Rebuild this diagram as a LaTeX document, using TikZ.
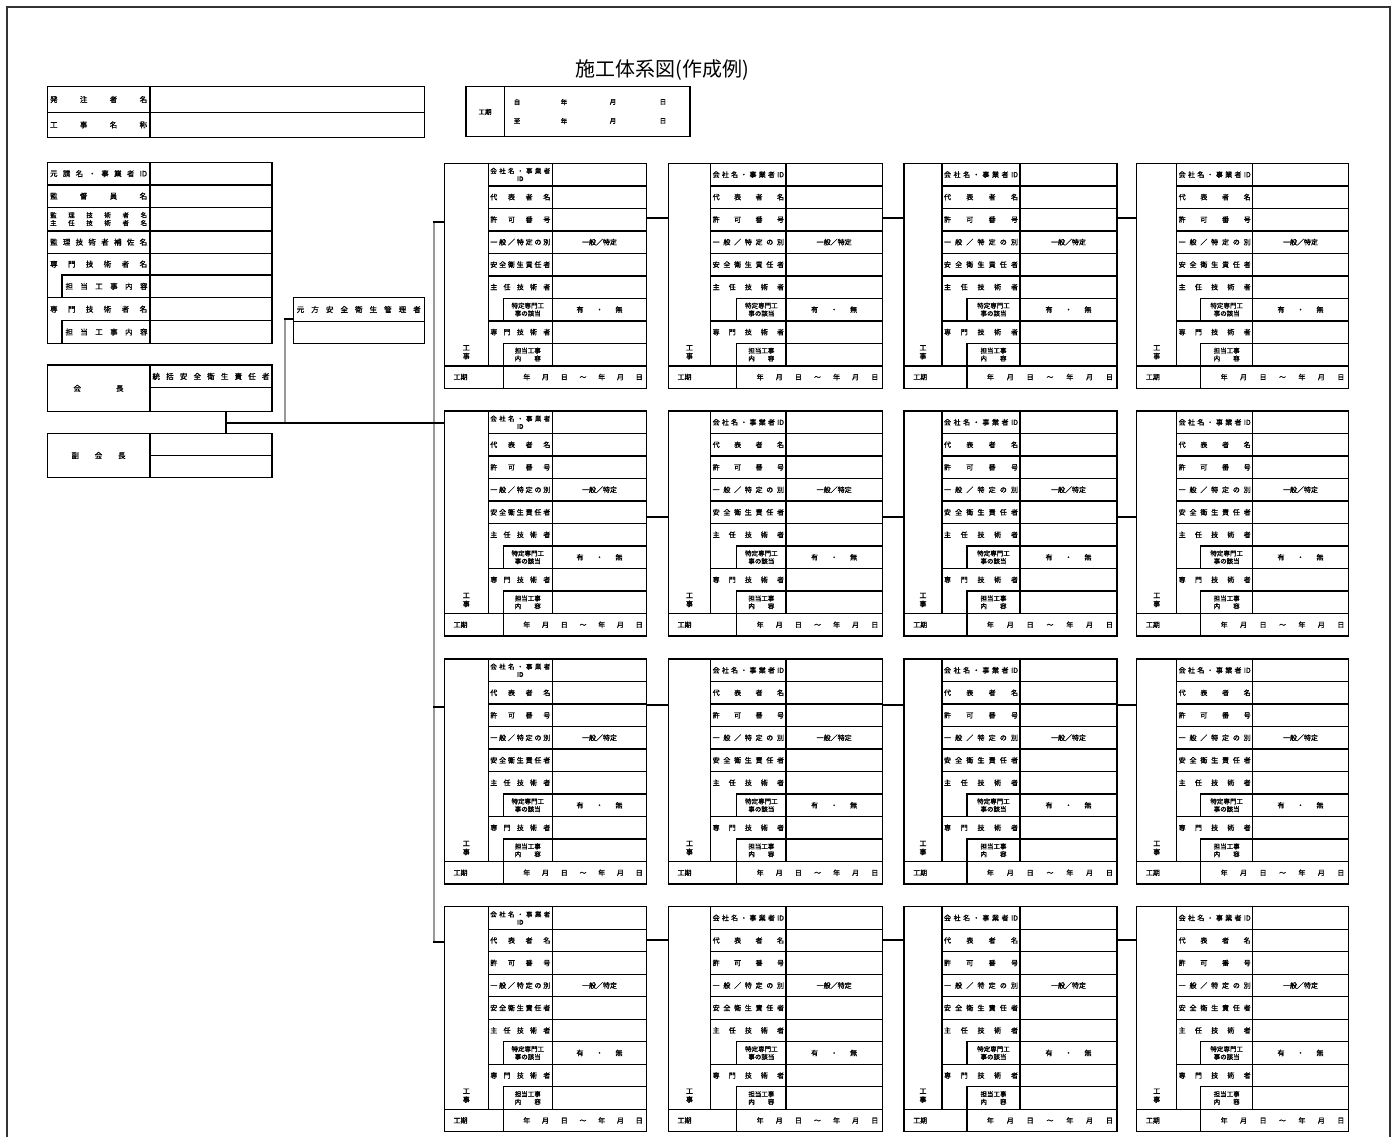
\documentclass[tikz,border=0pt]{standalone}
\usepackage{fontspec}
\newfontfamily\jp[FakeBold=1.2]{Noto Sans CJK JP}
\newfontfamily\jpt{Noto Sans CJK JP}
\tikzset{
 tl/.style={line width=1.4pt, black, line cap=rect},
 gl/.style={line width=2pt, black!40},
 lab/.style={inner sep=0pt, font=\jp\fontsize{7}{8.5}\selectfont, align=center},
 labs/.style={inner sep=0pt, font=\jp\fontsize{6.5}{7.8}\selectfont, align=center},
 llab/.style={inner sep=0pt, font=\jp\fontsize{7.5}{9}\selectfont, align=center},
}
\newcommand{\dst}[2]{\makebox[#1pt][s]{#2}}
\newcommand{\kbox}[8]{%
\begin{scope}[shift={(0,#7)}]
\coordinate (#1-nw) at (#2,0);
\coordinate (#1-ne) at (#6,0);
\draw[tl] (#2,0) rectangle (#6,225);
\draw[tl] (#3,0) -- (#3,202.5) (#5,0) -- (#5,202.5);
\foreach \yy in {22.5,45,67.5,90,112.5,157.5}{\draw[tl] (#3,\yy) -- (#6,\yy);}
\draw[tl] (#4,157.5) -- (#4,135) -- (#6,135);
\draw[tl] (#4,225) -- (#4,180) -- (#6,180);
\draw[tl] (#2,202.5) -- (#6,202.5);
\pgfmathsetmacro\lw{#5-#3-4}
\pgfmathsetmacro\lx{(#3+#5)/2}
\pgfmathsetmacro\ix{(#4+#5)/2}
\pgfmathsetmacro\vx{(#5+#6)/2}
\pgfmathsetmacro\kx{(#2+#3)/2}
\pgfmathsetmacro\ex{(#4+#6)/2+8}
\pgfmathsetmacro\ew{#6-#4-24}
\pgfmathsetmacro\qx{#2+9}
\ifnum#8=1
\node[labs] (#1-t1) at (\lx,11.25) {\dst{\lw}{会\hfill 社\hfill 名\hfill ・\hfill 事\hfill 業\hfill 者}\\ID};
\else
\node[lab] (#1-t1) at (\lx,11.25) {\dst{\lw}{会\hfill 社\hfill 名\hfill ・\hfill 事\hfill 業\hfill 者\hfill ID}};
\fi
\node[lab] (#1-t2) at (\lx,33.75) {\dst{\lw}{代\hfill 表\hfill 者\hfill 名}};
\node[lab] (#1-t3) at (\lx,56.25) {\dst{\lw}{許\hfill 可\hfill 番\hfill 号}};
\node[lab] (#1-t4) at (\lx,78.75) {\dst{\lw}{一\hfill 般\hfill ／\hfill 特\hfill 定\hfill の\hfill 別}};
\node[lab] (#1-t5) at (\lx,101.25) {\dst{\lw}{安\hfill 全\hfill 衛\hfill 生\hfill 責\hfill 任\hfill 者}};
\node[lab] (#1-t6) at (\lx,123.75) {\dst{\lw}{主\hfill 任\hfill 技\hfill 術\hfill 者}};
\node[labs] (#1-t7) at (\ix,146.25) {特定専門工\\事の該当};
\node[lab] (#1-t8) at (\lx,168.75) {\dst{\lw}{専\hfill 門\hfill 技\hfill 術\hfill 者}};
\node[labs] (#1-t9) at (\ix,191.25) {担当工事\\\dst{26}{内\hfill 容}};
\node[lab, anchor=west] (#1-t10) at (\qx,213.75) {工期};
\node[lab] (#1-v4) at (\vx,78.75) {一般／特定};
\node[lab] (#1-v7) at (\vx,146.25) {\dst{46}{有\hfill ・\hfill 無}};
\node[lab] (#1-v10) at (\ex,213.75) {\dst{\ew}{年\hfill 月\hfill 日\hfill ～\hfill 年\hfill 月\hfill 日}};
\node[lab] (#1-k) at (\kx,189) {工\\事};
\end{scope}}
\begin{document}
\begin{tikzpicture}[x=1pt,y=-1pt]
\useasboundingbox (0,0) rectangle (1395,1137);
% frame
\draw[line width=1.6pt, black!80] (7,1145) -- (7,7) -- (1390,7) -- (1390,1145);
% title
\node[inner sep=0pt, font=\jpt\fontsize{20}{23}\selectfont] (title) at (662.5,70) {施工体系図(作成例)};
% order box
\draw[tl] (47.3,86.7) rectangle (424.7,137.3);
\draw[tl] (47.3,112.3) -- (424.7,112.3) (150,86.7) -- (150,137.3);
\node[llab] (hn) at (98.6,99.5) {\dst{97}{発\hfill 注\hfill 者\hfill 名}};
\node[llab] (kn) at (98.6,124.8) {\dst{97}{工\hfill 事\hfill 名\hfill 称}};
% period box
\draw[tl] (466,86.7) rectangle (690,136.7);
\draw[tl] (504.3,86.7) -- (504.3,136.7);
\node[labs] (kk) at (485,112) {工期};
\node[labs] (p1) at (517,102) {自};
\node[labs] (p2) at (564,102) {年};
\node[labs] (p3) at (613,102) {月};
\node[labs] (p4) at (663,102) {日};
\node[labs] (q1) at (517,121) {至};
\node[labs] (q2) at (564,121) {年};
\node[labs] (q3) at (613,121) {月};
\node[labs] (q4) at (663,121) {日};
% prime contractor box
\draw[tl] (47.3,162.3) rectangle (272,343.3);
\draw[tl] (150,162.3) -- (150,343.3);
\foreach \yy in {185,207.3,231,253.3,297.7}{\draw[tl] (47.3,\yy) -- (272,\yy);}
\draw[tl] (62,297.7) -- (62,275) -- (272,275);
\draw[tl] (62,343.3) -- (62,320.7) -- (272,320.7);
\node[llab] (m1) at (98.6,173.6) {\dst{97}{元\hfill 請\hfill 名\hfill ・\hfill 事\hfill 業\hfill 者\hfill ID}};
\node[llab] (m2) at (98.6,196.1) {\dst{97}{監\hfill 督\hfill 員\hfill 名}};
\node[labs] (m3) at (98.6,219.1) {\dst{97}{監\hfill 理\hfill 技\hfill 術\hfill 者\hfill 名}\\\dst{97}{主\hfill 任\hfill 技\hfill 術\hfill 者\hfill 名}};
\node[llab] (m4) at (98.6,242.1) {\dst{97}{監\hfill 理\hfill 技\hfill 術\hfill 者\hfill 補\hfill 佐\hfill 名}};
\node[llab] (m5) at (98.6,264.1) {\dst{97}{専\hfill 門\hfill 技\hfill 術\hfill 者\hfill 名}};
\node[llab] (m6) at (106.5,286.3) {\dst{82}{担\hfill 当\hfill 工\hfill 事\hfill 内\hfill 容}};
\node[llab] (m7) at (98.6,309.2) {\dst{97}{専\hfill 門\hfill 技\hfill 術\hfill 者\hfill 名}};
\node[llab] (m8) at (106.5,332) {\dst{82}{担\hfill 当\hfill 工\hfill 事\hfill 内\hfill 容}};
% safety manager box
\draw[tl] (293.3,297.3) rectangle (424.3,343.3);
\draw[tl] (293.3,321.7) -- (424.3,321.7);
\node[llab] (mk) at (358.8,309.5) {\dst{124}{元\hfill 方\hfill 安\hfill 全\hfill 衛\hfill 生\hfill 管\hfill 理\hfill 者}};
\coordinate (mk-w) at (293.3,319);
% chairman box
\draw[tl] (47.3,365) rectangle (272,411.7);
\draw[tl] (150,365) -- (150,411.7) (150,387.7) -- (272,387.7);
\node[llab] (kc) at (98.5,388.3) {\dst{50}{会\hfill 長}};
\node[llab] (ts) at (211,376.4) {\dst{117}{統\hfill 括\hfill 安\hfill 全\hfill 衛\hfill 生\hfill 責\hfill 任\hfill 者}};
% vice chairman box
\draw[tl] (47.3,433.3) rectangle (272,477.7);
\draw[tl] (150,433.3) -- (150,477.7) (150,455.7) -- (272,455.7);
\node[llab] (fk) at (98.5,455.5) {\dst{54}{副\hfill 会\hfill 長}};
% subcontractor boxes
\foreach \r/\t in {1/163.3,2/411,3/659,4/906.7}{
\kbox{b\r1}{444.3}{488.3}{503.3}{552.3}{646.7}{\t}{1}
\kbox{b\r2}{668.3}{710.7}{736.7}{786}{882.3}{\t}{2}
\kbox{b\r3}{904}{942}{967}{1020}{1117}{\t}{2}
\kbox{b\r4}{1136.7}{1176.7}{1200.7}{1252.7}{1348.3}{\t}{2}
}
% connectors
\coordinate (kc-s) at (226,411.7);
\coordinate (fk-n) at (226,433.3);
\coordinate (jn) at (226,423);
\coordinate (mkt) at (285,319);
\coordinate (mkj) at (285,423);
\coordinate (tk1) at (433.7,222);
\coordinate (tk2) at (433.7,423);
\coordinate (tk3) at (433.7,707);
\coordinate (tk4) at (433.7,942);
\draw[gl] (mkt) -- (mkj);
\draw[gl] (tk1) -- (tk4);
\draw[tl] (kc-s) -- (fk-n);
\draw[tl] (mkt) -- (mk-w);
\draw[tl] (jn) -- (b21-nw |- tk2);
\draw[tl] (tk1) -- (b11-nw |- tk1);
\draw[tl] (tk3) -- (b31-nw |- tk3);
\draw[tl] (tk4) -- (b41-nw |- tk4);
\coordinate (cr1) at (0,218);
\coordinate (cr2) at (0,517);
\coordinate (cr3) at (0,705);
\coordinate (cr4) at (0,940);
\foreach \r in {1,2,3,4}{
 \foreach \c/\d in {1/2,2/3,3/4}{
  \draw[tl] (b\r\c-ne |- cr\r) -- (b\r\d-nw |- cr\r);
 }
}
\end{tikzpicture}
\end{document}
